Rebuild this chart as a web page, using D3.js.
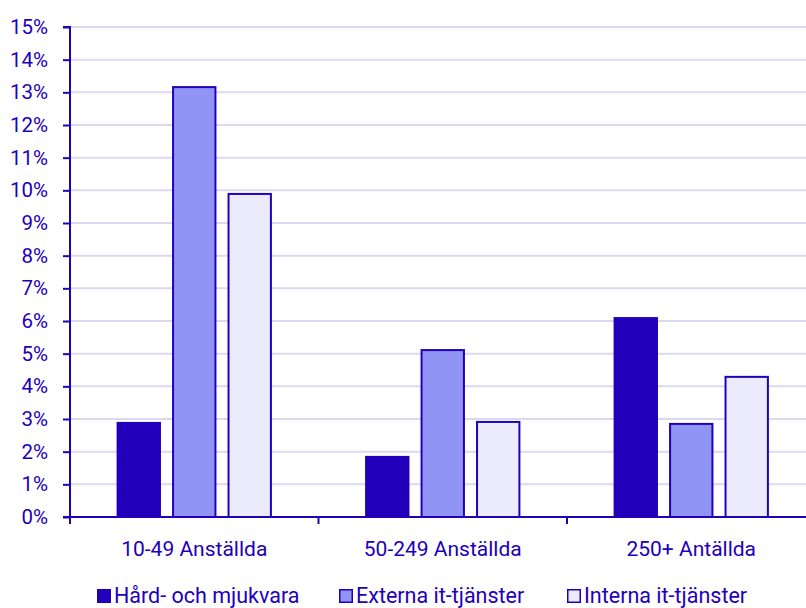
<!DOCTYPE html>
<html>
<head>
<meta charset="utf-8">
<script src="https://cdn.jsdelivr.net/npm/d3@7"></script>
<style>
  html, body { margin: 0; padding: 0; background: #fff; }
  svg { display: block; font-family: Roboto, "Noto Sans", sans-serif; }
</style>
</head>
<body>
<svg id="chart" width="806" height="608"></svg>
<script>
// Andel företag per storleksklass och kostnadstyp
const categories = ["10-49 Anställda", "50-249 Anställda", "250+ Antällda"];
const seriesNames = ["Hård- och mjukvara", "Externa it-tjänster", "Interna it-tjänster"];
const hardMjuk = [2.88, 1.84, 6.09];
const externa = [13.16, 5.11, 2.85];
const interna = [9.89, 2.91, 4.29];
const yTicks = [0, 1, 2, 3, 4, 5, 6, 7, 8, 9, 10, 11, 12, 13, 14, 15];

const seriesValues = [hardMjuk, externa, interna];
const fills = ["#2200bb", "#8f94f5", "#ebebfc"];
const ink = "#2200bb";

const svg = d3.select("#chart");
const mLeft = 70, mTop = 27, mBottom = 517, bandW = 248.5;

const x0 = d3.scaleBand().domain(categories).range([mLeft, mLeft + bandW * 3]).padding(0);
const x1 = d3.scaleBand().domain(seriesNames).range([0, bandW]).paddingInner(0.2).paddingOuter(0.84);
const y = d3.scaleLinear().domain([0, 15]).range([mBottom, mTop]);

// grid
svg.append("g").selectAll("line").data(yTicks.filter(d => d > 0)).join("line")
  .attr("x1", mLeft).attr("x2", 806)
  .attr("y1", d => y(d)).attr("y2", d => y(d))
  .attr("stroke", "#d9d9f0").attr("stroke-width", 2);

// bars
const groups = svg.append("g").selectAll("g").data(categories).join("g")
  .attr("transform", c => `translate(${x0(c)},0)`);
groups.selectAll("rect").data((c, ci) => seriesNames.map((s, si) => ({ s, si, v: seriesValues[si][ci] })))
  .join("rect")
  .attr("x", d => x1(d.s) + 1)
  .attr("width", x1.bandwidth() - 2)
  .attr("y", d => y(d.v))
  .attr("height", d => mBottom - y(d.v))
  .attr("fill", d => fills[d.si])
  .attr("stroke", ink)
  .attr("stroke-width", 2);

// y axis
const yAxis = d3.axisLeft(y).tickValues(yTicks).tickFormat(d => d + "%").tickSize(7).tickPadding(15);
const gy = svg.append("g").attr("transform", `translate(${mLeft},0)`).call(yAxis);
gy.select(".domain").attr("stroke", ink).attr("stroke-width", 2).attr("d", `M-7,${mTop}H0V${mBottom + 7}`);
gy.selectAll(".tick line").attr("stroke", ink).attr("stroke-width", 2);
gy.selectAll(".tick text").attr("fill", ink).attr("font-size", 20.5).attr("font-family", "Roboto");

// x axis
const gx = svg.append("g").attr("transform", `translate(0,${mBottom})`);
gx.append("line").attr("x1", mLeft - 7).attr("x2", 806).attr("y1", 0).attr("y2", 0)
  .attr("stroke", ink).attr("stroke-width", 2);
gx.selectAll(".sep").data(d3.range(0, categories.length + 1)).join("line")
  .attr("x1", i => mLeft + i * bandW).attr("x2", i => mLeft + i * bandW)
  .attr("y1", 0).attr("y2", 7).attr("stroke", ink).attr("stroke-width", 2);
gx.selectAll("text").data(categories).join("text")
  .attr("x", c => x0(c) + bandW / 2).attr("y", 39)
  .attr("text-anchor", "middle").attr("fill", ink).attr("font-size", 21)
  .text(c => c);

// legend
const legendX = [97, 339, 567];
const lg = svg.append("g").selectAll("g").data(seriesNames).join("g")
  .attr("transform", (d, i) => `translate(${legendX[i]},589)`);
lg.append("rect").attr("x", 0.75).attr("y", 0.75).attr("width", 12.5).attr("height", 12.5)
  .attr("fill", (d, i) => fills[i]).attr("stroke", ink).attr("stroke-width", 1.5);
lg.append("text").attr("x", 17).attr("y", 13.5).attr("fill", ink).attr("font-size", 21.5)
  .text(d => d);
</script>
</body>
</html>
